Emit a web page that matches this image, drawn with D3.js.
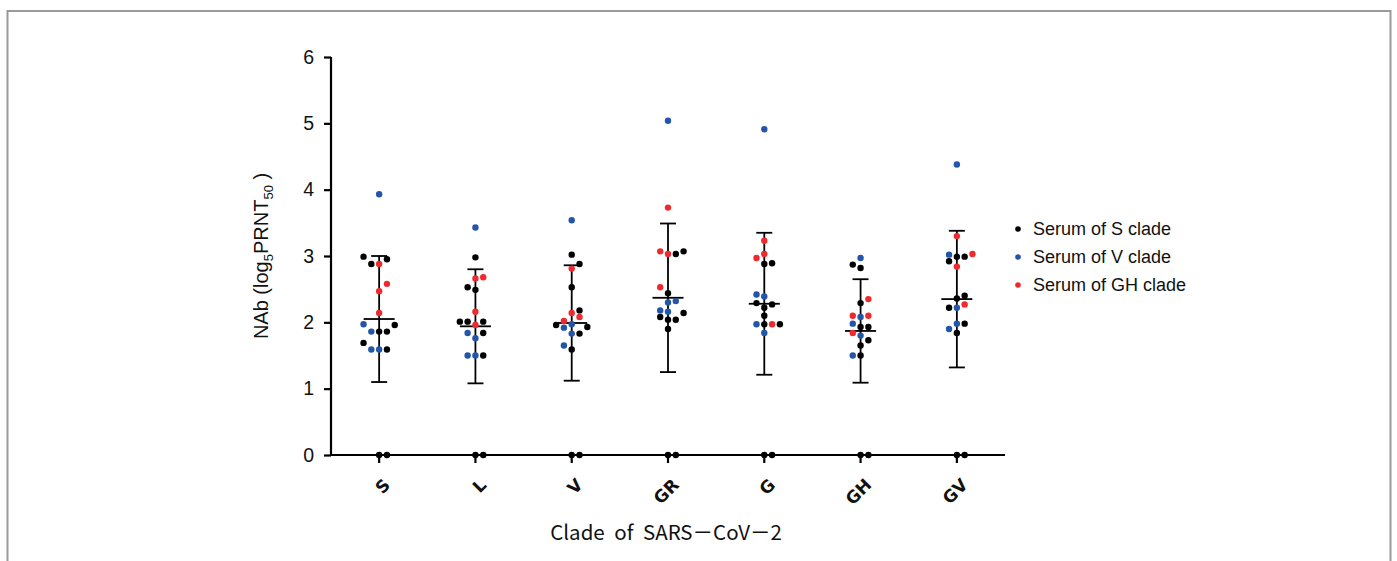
<!DOCTYPE html>
<html>
<head>
<meta charset="utf-8">
<script src="https://cdn.jsdelivr.net/npm/d3@7"></script>
<style>
  html, body { margin: 0; padding: 0; background: #fff; }
  svg { display: block; }
</style>
</head>
<body>
<svg id="chart" width="1397" height="561"></svg>
<script>
// ---------- data (value, serum clade, horizontal lane) ----------
const clades = ["S", "L", "V", "GR", "G", "GH", "GV"];
const yTicks = [0, 1, 2, 3, 4, 5, 6];
const serumGroups = ["S", "V", "GH"];
const legendLabels = ["Serum of S clade", "Serum of V clade", "Serum of GH clade"];
const serumColors = ["#000000", "#2356a8", "#ee2a2e"];

const ptsS = [[3.93,"V",0],[2.99,"S",-2],[2.95,"S",1],[2.88,"S",-1],[2.88,"GH",0],[2.58,"GH",1],[2.47,"GH",0],[2.14,"GH",0],[1.97,"V",-2],[1.96,"S",2],[1.86,"V",-1],[1.86,"S",0],[1.86,"S",1],[1.69,"S",-2],[1.59,"V",-1],[1.59,"V",0],[1.59,"S",1],[0,"S",0],[0,"S",1]];
const ptsL = [[3.43,"V",0],[2.98,"S",0],[2.66,"GH",0],[2.68,"GH",1],[2.53,"S",-1],[2.49,"S",0],[2.16,"GH",0],[2.01,"S",-2],[2.01,"S",-1],[2.01,"S",1],[1.96,"GH",0],[1.84,"V",-1],[1.84,"S",1],[1.76,"V",0],[1.50,"V",-1],[1.50,"V",0],[1.50,"S",1],[0,"S",0],[0,"S",1]];
const ptsV = [[3.54,"V",0],[3.02,"S",0],[2.88,"S",1],[2.81,"GH",0],[2.53,"S",0],[2.18,"S",1],[2.14,"GH",0],[2.08,"GH",1],[2.02,"GH",-1],[1.96,"S",-2],[1.97,"V",0],[1.93,"S",2],[1.92,"V",-1],[1.83,"V",0],[1.83,"S",1],[1.65,"V",-1],[1.59,"S",0],[0,"S",0],[0,"S",1]];
const ptsGR = [[5.04,"V",0],[3.73,"GH",0],[3.07,"GH",-1],[3.03,"GH",0],[3.03,"S",1],[3.07,"S",2],[2.53,"GH",-1],[2.44,"S",0],[2.30,"V",0],[2.32,"V",1],[2.18,"V",-1],[2.16,"V",0],[2.08,"S",-1],[2.04,"S",0],[2.04,"S",1],[2.14,"S",2],[1.90,"S",0],[0,"S",0],[0,"S",1]];
const ptsG = [[4.91,"V",0],[3.23,"GH",0],[3.03,"GH",0],[2.97,"GH",-1],[2.88,"S",0],[2.89,"S",1],[2.42,"V",-1],[2.39,"V",0],[2.29,"S",-1],[2.27,"S",1],[2.22,"S",0],[2.10,"S",0],[1.97,"V",-1],[1.97,"S",0],[1.97,"GH",1],[1.97,"S",2],[1.84,"V",0],[0,"S",0],[0,"S",1]];
const ptsGH = [[2.97,"V",0],[2.87,"S",-1],[2.82,"S",0],[2.29,"S",0],[2.35,"GH",1],[2.10,"GH",-1],[2.08,"V",0],[2.10,"GH",1],[1.98,"V",-1],[1.93,"S",0],[1.93,"S",1],[1.84,"GH",-1],[1.80,"V",0],[1.73,"S",1],[1.65,"S",0],[1.50,"V",-1],[1.50,"S",0],[0,"S",0],[0,"S",1]];
const ptsGV = [[4.38,"V",0],[3.30,"GH",0],[3.02,"V",-1],[3.03,"GH",2],[2.99,"S",0],[2.99,"S",1],[2.92,"S",-1],[2.84,"GH",0],[2.40,"S",1],[2.36,"S",0],[2.27,"GH",1],[2.22,"S",-1],[2.22,"V",0],[1.98,"V",0],[1.98,"S",1],[1.90,"V",-1],[1.84,"S",0],[0,"S",0],[0,"S",1]];

const means = [2.05, 1.94, 1.99, 2.37, 2.28, 1.87, 2.35];
const sds   = [0.95, 0.86, 0.87, 1.12, 1.07, 0.78, 1.03];

const xTitle = "Clade of SARS－CoV－2";

// ---------- layout ----------
const svg = d3.select("#chart");
const plotLeft = 331, plotRight = 1005, plotTop = 57, plotBottom = 455;

const x = d3.scaleBand().domain(clades).range([plotLeft, plotRight]);
const y = d3.scaleLinear().domain([0, 6]).range([plotBottom, plotTop]);
const lane = d3.scaleLinear().domain([-1, 1]).range([-7.8, 7.8]);
const color = d3.scaleOrdinal().domain(serumGroups).range(serumColors);

// frame
svg.append("rect")
  .attr("x", 7.5).attr("y", 11).attr("width", 1383).attr("height", 600)
  .attr("fill", "none").attr("stroke", "#9a9a9a").attr("stroke-width", 2);

const allPts = [ptsS, ptsL, ptsV, ptsGR, ptsG, ptsGH, ptsGV];

// error bars
const eb = svg.append("g").attr("stroke", "#000").attr("stroke-width", 1.8).attr("fill", "none");
clades.forEach((c, i) => {
  const cx = x(c) + x.bandwidth() / 2;
  const m = means[i], s = sds[i];
  eb.append("line").attr("x1", cx).attr("x2", cx).attr("y1", y(m + s)).attr("y2", y(m - s));
  eb.append("line").attr("x1", cx - 8).attr("x2", cx + 8).attr("y1", y(m + s)).attr("y2", y(m + s));
  eb.append("line").attr("x1", cx - 8).attr("x2", cx + 8).attr("y1", y(m - s)).attr("y2", y(m - s));
  eb.append("line").attr("x1", cx - 15.5).attr("x2", cx + 15.5).attr("y1", y(m)).attr("y2", y(m));
});

// axes
const yAxis = svg.append("g")
  .attr("transform", `translate(${plotLeft},0)`)
  .call(d3.axisLeft(y).tickValues(yTicks).tickFormat(d3.format("d")).tickSize(7).tickPadding(10));
yAxis.select(".domain").attr("stroke-width", 2.2).attr("d", `M0,${plotTop}V${plotBottom}`);
yAxis.selectAll(".tick line").attr("stroke-width", 2.2);
yAxis.selectAll(".tick text").attr("font-family", "'Liberation Sans', Arial, sans-serif").attr("font-size", 19.5).attr("fill", "#111");

const xAxis = svg.append("g")
  .attr("transform", `translate(0,${plotBottom})`)
  .call(d3.axisBottom(x).tickSize(8).tickPadding(4));
xAxis.select(".domain").attr("stroke-width", 2.2).attr("d", `M${plotLeft},0H${plotRight}`);
xAxis.selectAll(".tick line").attr("stroke-width", 2.2);
xAxis.selectAll(".tick text")
  .attr("font-family", "'DejaVu Sans', 'Liberation Sans', sans-serif")
  .attr("font-weight", "bold").attr("font-size", 17).attr("fill", "#111")
  .attr("text-anchor", "end")
  .attr("dy", null)
  .attr("transform", "translate(12,31) rotate(-45)")
  .attr("x", 0).attr("y", 0);

// dots
const dots = svg.append("g");
clades.forEach((c, i) => {
  const cx = x(c) + x.bandwidth() / 2;
  dots.selectAll(null).data(allPts[i]).enter().append("circle")
    .attr("cx", d => cx + lane(d[2]))
    .attr("cy", d => y(d[0]))
    .attr("r", 3.2)
    .attr("fill", d => color(d[1]));
});

// axis titles
svg.append("text")
  .attr("x", 666).attr("y", 540)
  .attr("text-anchor", "middle")
  .attr("font-family", "'Noto Sans CJK KR', 'Noto Sans', sans-serif")
  .attr("font-size", 20.5).attr("word-spacing", 5).attr("fill", "#111")
  .text(xTitle);

const yt = svg.append("text")
  .attr("transform", `translate(268,${(plotTop + plotBottom) / 2}) rotate(-90)`)
  .attr("text-anchor", "middle")
  .attr("font-family", "'Liberation Sans', Arial, sans-serif")
  .attr("font-size", 20).attr("fill", "#111");
yt.append("tspan").text("NAb (log");
yt.append("tspan").attr("font-size", 13).attr("dy", 5).text("5");
yt.append("tspan").attr("dy", -5).text("PRNT");
yt.append("tspan").attr("font-size", 13).attr("dy", 5).text("50");
yt.append("tspan").attr("dy", -5).text(" )");

// legend
const lg = svg.append("g");
serumGroups.forEach((g, i) => {
  const ly = 229 + i * 28;
  lg.append("circle").attr("cx", 1018).attr("cy", ly).attr("r", 2.8).attr("fill", color(g));
  lg.append("text").attr("x", 1033).attr("y", ly + 6)
    .attr("font-family", "'Liberation Sans', Arial, sans-serif")
    .attr("font-size", 18).attr("fill", "#111")
    .text(legendLabels[i]);
});
</script>
</body>
</html>
